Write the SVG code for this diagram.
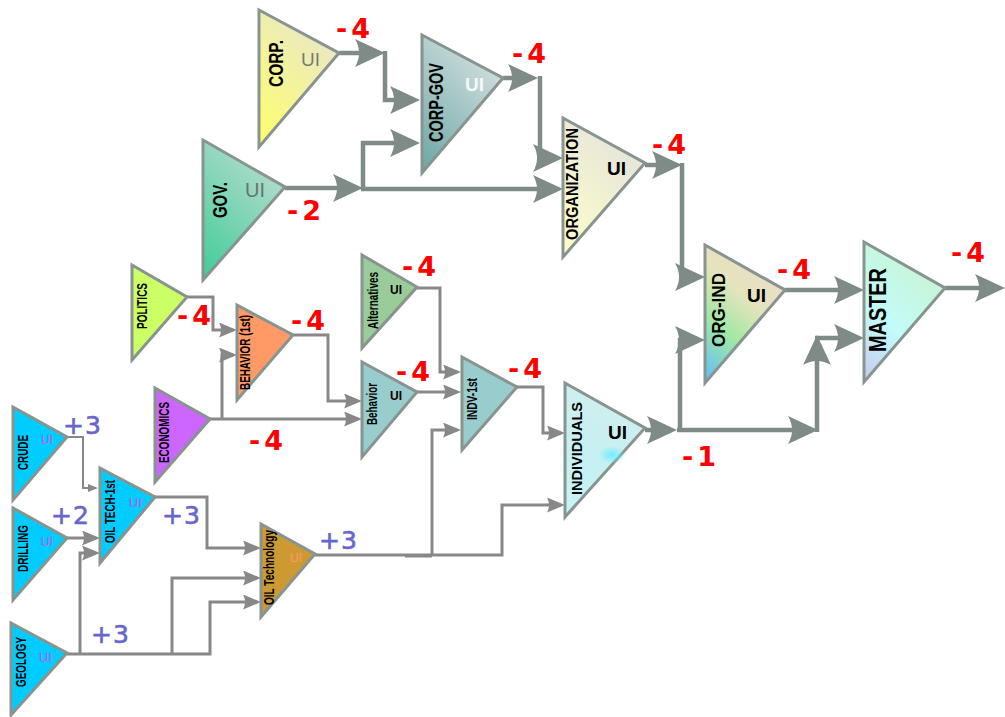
<svg xmlns="http://www.w3.org/2000/svg" width="1005" height="717" viewBox="0 0 1005 717">
  <style>
    .tri { stroke: #889490; stroke-width: 3; stroke-linejoin: miter; }
    .lbl { font-family: "Liberation Sans Narrow", "Liberation Sans", Arial, sans-serif; font-weight: bold; fill: #000; }
    .ui { font-family: "Liberation Sans", Arial, sans-serif; }
    .neg { font-family: "DejaVu Sans", "Liberation Sans", sans-serif; font-weight: bold; font-size: 27px; fill: #ff0000; letter-spacing: 4px; }
    .pos { font-family: "DejaVu Sans", "Liberation Sans", sans-serif; font-size: 25px; fill: #6666cc; stroke: #6666cc; stroke-width: 0.6; letter-spacing: 1px; }
    .thick { fill: none; stroke: #7f8b86; stroke-width: 4.5; marker-end: url(#ah-big); }
    .mid { fill: none; stroke: #888888; stroke-width: 3; marker-end: url(#ah-mid); }
    .mid-plain { fill: none; stroke: #888888; stroke-width: 3; }
    .thin { fill: none; stroke: #888888; stroke-width: 2; marker-end: url(#ah-small); }
  </style>
  <defs>
    <marker id="ah-big" markerUnits="userSpaceOnUse" markerWidth="32" markerHeight="30" refX="24" refY="14" orient="auto">
      <path d="M0,0 L30,14 L0,28 Q8,14 0,0 z" fill="#7f8b86"/>
    </marker>
    <marker id="ah-mid" markerUnits="userSpaceOnUse" markerWidth="20" markerHeight="16" refX="14" refY="7.5" orient="auto">
      <path d="M0,0 L18,7.5 L0,15 Q4,7.5 0,0 z" fill="#888888"/>
    </marker>
    <marker id="ah-small" markerUnits="userSpaceOnUse" markerWidth="12" markerHeight="10" refX="8" refY="4" orient="auto">
      <path d="M0,0 L10,4 L0,8 z" fill="#888888"/>
    </marker>
    <linearGradient id="g-corp" x1="0.6" y1="0" x2="0" y2="1">
      <stop offset="0" stop-color="#e9e8c8"/>
      <stop offset="1" stop-color="#ffff6a"/>
    </linearGradient>
    <linearGradient id="g-corpgov" x1="0.6" y1="0" x2="0" y2="1">
      <stop offset="0" stop-color="#d2dfdf"/>
      <stop offset="1" stop-color="#6aa6a4"/>
    </linearGradient>
    <linearGradient id="g-gov" x1="0.6" y1="0" x2="0" y2="1">
      <stop offset="0" stop-color="#b4dccd"/>
      <stop offset="1" stop-color="#40cc98"/>
    </linearGradient>
    <linearGradient id="g-org" x1="0.6" y1="0" x2="0" y2="1">
      <stop offset="0" stop-color="#e4e4dc"/>
      <stop offset="1" stop-color="#ffffc8"/>
    </linearGradient>
    <linearGradient id="g-orgind" x1="0.5" y1="0" x2="0" y2="1">
      <stop offset="0" stop-color="#ecdcc8"/>
      <stop offset="0.3" stop-color="#e4e4bc"/>
      <stop offset="0.6" stop-color="#a2e8a4"/>
      <stop offset="1" stop-color="#5cbcff"/>
    </linearGradient>
    <linearGradient id="g-master" x1="0.5" y1="0" x2="0" y2="1">
      <stop offset="0" stop-color="#c8f4d2"/>
      <stop offset="0.55" stop-color="#c2fcfa"/>
      <stop offset="1" stop-color="#c8c8f0"/>
    </linearGradient>
    <linearGradient id="g-indiv" x1="0.5" y1="0" x2="0" y2="1">
      <stop offset="0" stop-color="#d2eeee"/>
      <stop offset="0.5" stop-color="#c6f0f2"/>
      <stop offset="1" stop-color="#c8f4f4"/>
    </linearGradient>
    <radialGradient id="g-glow" cx="0.5" cy="0.5" r="0.5">
      <stop offset="0" stop-color="#66eeff" stop-opacity="0.9"/>
      <stop offset="1" stop-color="#66eeff" stop-opacity="0"/>
    </radialGradient>
  </defs>

  <!-- connectors -->
  <g id="connectors">
    <!-- upper network (heavy lines) -->
    <path class="thick" d="M339,53 H379"/>
    <path class="thick" d="M385,51 V100 H414"/>
    <path class="thick" d="M285,188 H357"/>
    <path class="thick" d="M363,190 V143 H414"/>
    <path class="thick" d="M361,189 H557"/>
    <path class="thick" d="M503,78 H532"/>
    <path class="thick" d="M540,76 V158 H557"/>
    <path class="thick" d="M645,165 H676"/>
    <path class="thick" d="M682,163 V277 H699"/>
    <path class="thick" d="M785,290 H858"/>
    <path class="thick" d="M945,288 H999"/>
    <path class="thick" d="M645,430 H671"/>
    <path class="thick" d="M677,430 H812"/>
    <path class="thick" d="M680,432 V340 H699"/>
    <path class="thick" d="M817,432 V341"/>
    <path class="thick" d="M815,338 H858"/>

    <!-- middle network -->
    <path class="mid" d="M187,297 H213 V330 H233"/>
    <path class="mid" d="M210,419 H358"/>
    <path class="mid" d="M222,419 V355 H233"/>
    <path class="mid" d="M293,335 H328 V401 H358"/>
    <path class="mid" d="M417,288 H440 V372 H457"/>
    <path class="mid" d="M417,392 H457"/>
    <path class="mid" d="M517,387 H543 V433 H561"/>
    <path class="mid" d="M315,555 H502 V505 H561"/>
    <path class="mid" d="M432,555 V430 H457"/>
    <path class="mid-plain" d="M405,556 H432" stroke-width="4"/>

    <!-- oil network -->
    <path class="thin" d="M67,437 H83 V488 H96"/>
    <path class="mid" d="M67,538 H96"/>
    <path class="mid" d="M67,654 H210 V602 H257"/>
    <path class="mid" d="M80,654 V553 H96"/>
    <path class="mid" d="M172,654 V578 H257"/>
    <path class="mid" d="M155,497 H207 V548 H257"/>
  </g>

  <!-- nodes -->
  <g id="corp">
    <polygon class="tri" points="259,10 339,53 259,147" fill="url(#g-corp)"/>
    <text class="lbl" font-size="21" transform="translate(283,87) rotate(-90)" textLength="47" lengthAdjust="spacingAndGlyphs">CORP.</text>
    <text class="ui" x="301" y="66" font-size="19" fill="#7a7a72">UI</text>
  </g>
  <g id="corp-gov">
    <polygon class="tri" points="422,35 503,78 422,173" fill="url(#g-corpgov)"/>
    <text class="lbl" font-size="21" transform="translate(443,142) rotate(-90)" textLength="79" lengthAdjust="spacingAndGlyphs">CORP-GOV</text>
    <text class="ui" x="465" y="91" font-size="19" font-weight="bold" fill="#f4f8f8">UI</text>
  </g>
  <g id="gov">
    <polygon class="tri" points="203,140 285,187 203,280" fill="url(#g-gov)"/>
    <text class="lbl" font-size="21" transform="translate(227,218) rotate(-90)" textLength="36" lengthAdjust="spacingAndGlyphs">GOV.</text>
    <text class="ui" x="245" y="197" font-size="20" fill="#687470">UI</text>
  </g>
  <g id="organization">
    <polygon class="tri" points="563,118 645,163 563,257" fill="url(#g-org)"/>
    <text class="lbl" font-size="16" transform="translate(578,240) rotate(-90)" textLength="112" lengthAdjust="spacingAndGlyphs">ORGANIZATION</text>
    <text class="ui" x="607" y="175" font-size="19" font-weight="bold" fill="#000">UI</text>
  </g>
  <g id="org-ind">
    <polygon class="tri" points="705,245 785,290 705,383" fill="url(#g-orgind)"/>
    <text class="lbl" font-size="18" transform="translate(725,347) rotate(-90)" textLength="74" lengthAdjust="spacingAndGlyphs">ORG-IND</text>
    <text class="ui" x="747" y="302" font-size="19" font-weight="bold" fill="#000">UI</text>
  </g>
  <g id="master">
    <polygon class="tri" points="864,242 945,288 864,382" fill="url(#g-master)"/>
    <text class="lbl" font-size="23" transform="translate(886,352) rotate(-90)" textLength="84" lengthAdjust="spacingAndGlyphs">MASTER</text>
  </g>
  <g id="individuals">
    <polygon class="tri" points="565,383 645,428 565,517" fill="url(#g-indiv)"/>
    <ellipse cx="612" cy="455" rx="14" ry="9" fill="url(#g-glow)"/>
    <text class="lbl" font-size="15" transform="translate(582,495) rotate(-90)" textLength="93" lengthAdjust="spacingAndGlyphs">INDIVIDUALS</text>
    <text class="ui" x="608" y="439" font-size="19" font-weight="bold" fill="#000">UI</text>
  </g>
  <g id="alternatives">
    <polygon class="tri" points="362,255 417,287 362,348" fill="#99cc99"/>
    <text class="lbl" font-size="14" transform="translate(378,329) rotate(-90)" textLength="57" lengthAdjust="spacingAndGlyphs">Alternatives</text>
    <text class="ui" x="390" y="294" font-size="12" font-weight="bold" fill="#000">UI</text>
  </g>
  <g id="behavior">
    <polygon class="tri" points="362,362 417,392 362,457" fill="#99cccc"/>
    <text class="lbl" font-size="14" transform="translate(377,425) rotate(-90)" textLength="42" lengthAdjust="spacingAndGlyphs">Behavior</text>
    <text class="ui" x="390" y="400" font-size="12" font-weight="bold" fill="#000">UI</text>
  </g>
  <g id="indv-1st">
    <polygon class="tri" points="462,357 517,387 462,450" fill="#99cccc"/>
    <text class="lbl" font-size="14" transform="translate(477,420) rotate(-90)" textLength="42" lengthAdjust="spacingAndGlyphs">INDV-1st</text>
  </g>
  <g id="politics">
    <polygon class="tri" points="132,265 187,297 132,360" fill="#ccff66"/>
    <text class="lbl" font-size="14" transform="translate(147,329) rotate(-90)" textLength="46" lengthAdjust="spacingAndGlyphs">POLITICS</text>
  </g>
  <g id="behavior-1st">
    <polygon class="tri" points="237,305 293,335 237,400" fill="#ff9966"/>
    <text class="lbl" font-size="14" transform="translate(250,390) rotate(-90)" textLength="75" lengthAdjust="spacingAndGlyphs">BEHAVIOR (1st)</text>
  </g>
  <g id="economics">
    <polygon class="tri" points="155,388 210,419 155,482" fill="#cc66ff"/>
    <text class="lbl" font-size="14" transform="translate(169,463) rotate(-90)" textLength="61" lengthAdjust="spacingAndGlyphs">ECONOMICS</text>
  </g>
  <g id="crude">
    <polygon class="tri" points="13,407 67,437 13,500" fill="#00ccff"/>
    <text class="lbl" font-size="14" transform="translate(28,470) rotate(-90)" textLength="35" lengthAdjust="spacingAndGlyphs">CRUDE</text>
    <text class="ui" x="41" y="444" font-size="12" fill="#cc55ee">UI</text>
  </g>
  <g id="drilling">
    <polygon class="tri" points="13,508 67,538 13,600" fill="#00ccff"/>
    <text class="lbl" font-size="14" transform="translate(28,572) rotate(-90)" textLength="47" lengthAdjust="spacingAndGlyphs">DRILLING</text>
    <text class="ui" x="41" y="546" font-size="12" fill="#cc55ee">UI</text>
  </g>
  <g id="oil-tech-1st">
    <polygon class="tri" points="100,468 155,497 100,563" fill="#00ccff"/>
    <text class="lbl" font-size="14" transform="translate(115,543) rotate(-90)" textLength="63" lengthAdjust="spacingAndGlyphs">OIL TECH-1st</text>
    <text class="ui" x="129" y="507" font-size="13" fill="#cc55ee">UI</text>
  </g>
  <g id="geology">
    <polygon class="tri" points="11,623 67,653 11,715" fill="#00ccff"/>
    <text class="lbl" font-size="14" transform="translate(26,687) rotate(-90)" textLength="50" lengthAdjust="spacingAndGlyphs">GEOLOGY</text>
    <text class="ui" x="39" y="662" font-size="13" fill="#cc55ee">UI</text>
  </g>
  <g id="oil-technology">
    <polygon class="tri" points="261,524 315,554 261,617" fill="#cc9933"/>
    <text class="lbl" font-size="14" transform="translate(274,605) rotate(-90)" textLength="75" lengthAdjust="spacingAndGlyphs">OIL Technology</text>
    <text class="ui" x="290" y="562" font-size="12" fill="#ff9966">UI</text>
  </g>

  <!-- link weights -->
  <g id="weights">
    <text class="neg" x="336" y="38">-4</text>
    <text class="neg" x="512" y="63">-4</text>
    <text class="neg" x="287" y="220">-2</text>
    <text class="neg" x="652" y="154">-4</text>
    <text class="neg" x="777" y="279">-4</text>
    <text class="neg" x="951" y="262">-4</text>
    <text class="neg" x="177" y="325">-4</text>
    <text class="neg" x="291" y="330">-4</text>
    <text class="neg" x="249" y="450">-4</text>
    <text class="neg" x="402" y="276">-4</text>
    <text class="neg" x="396" y="381">-4</text>
    <text class="neg" x="508" y="378">-4</text>
    <text class="neg" x="682" y="466">-1</text>
    <text class="pos" x="63" y="434">+3</text>
    <text class="pos" x="51" y="524">+2</text>
    <text class="pos" x="162" y="524">+3</text>
    <text class="pos" x="91" y="643">+3</text>
    <text class="pos" x="319" y="549">+3</text>
  </g>
</svg>
